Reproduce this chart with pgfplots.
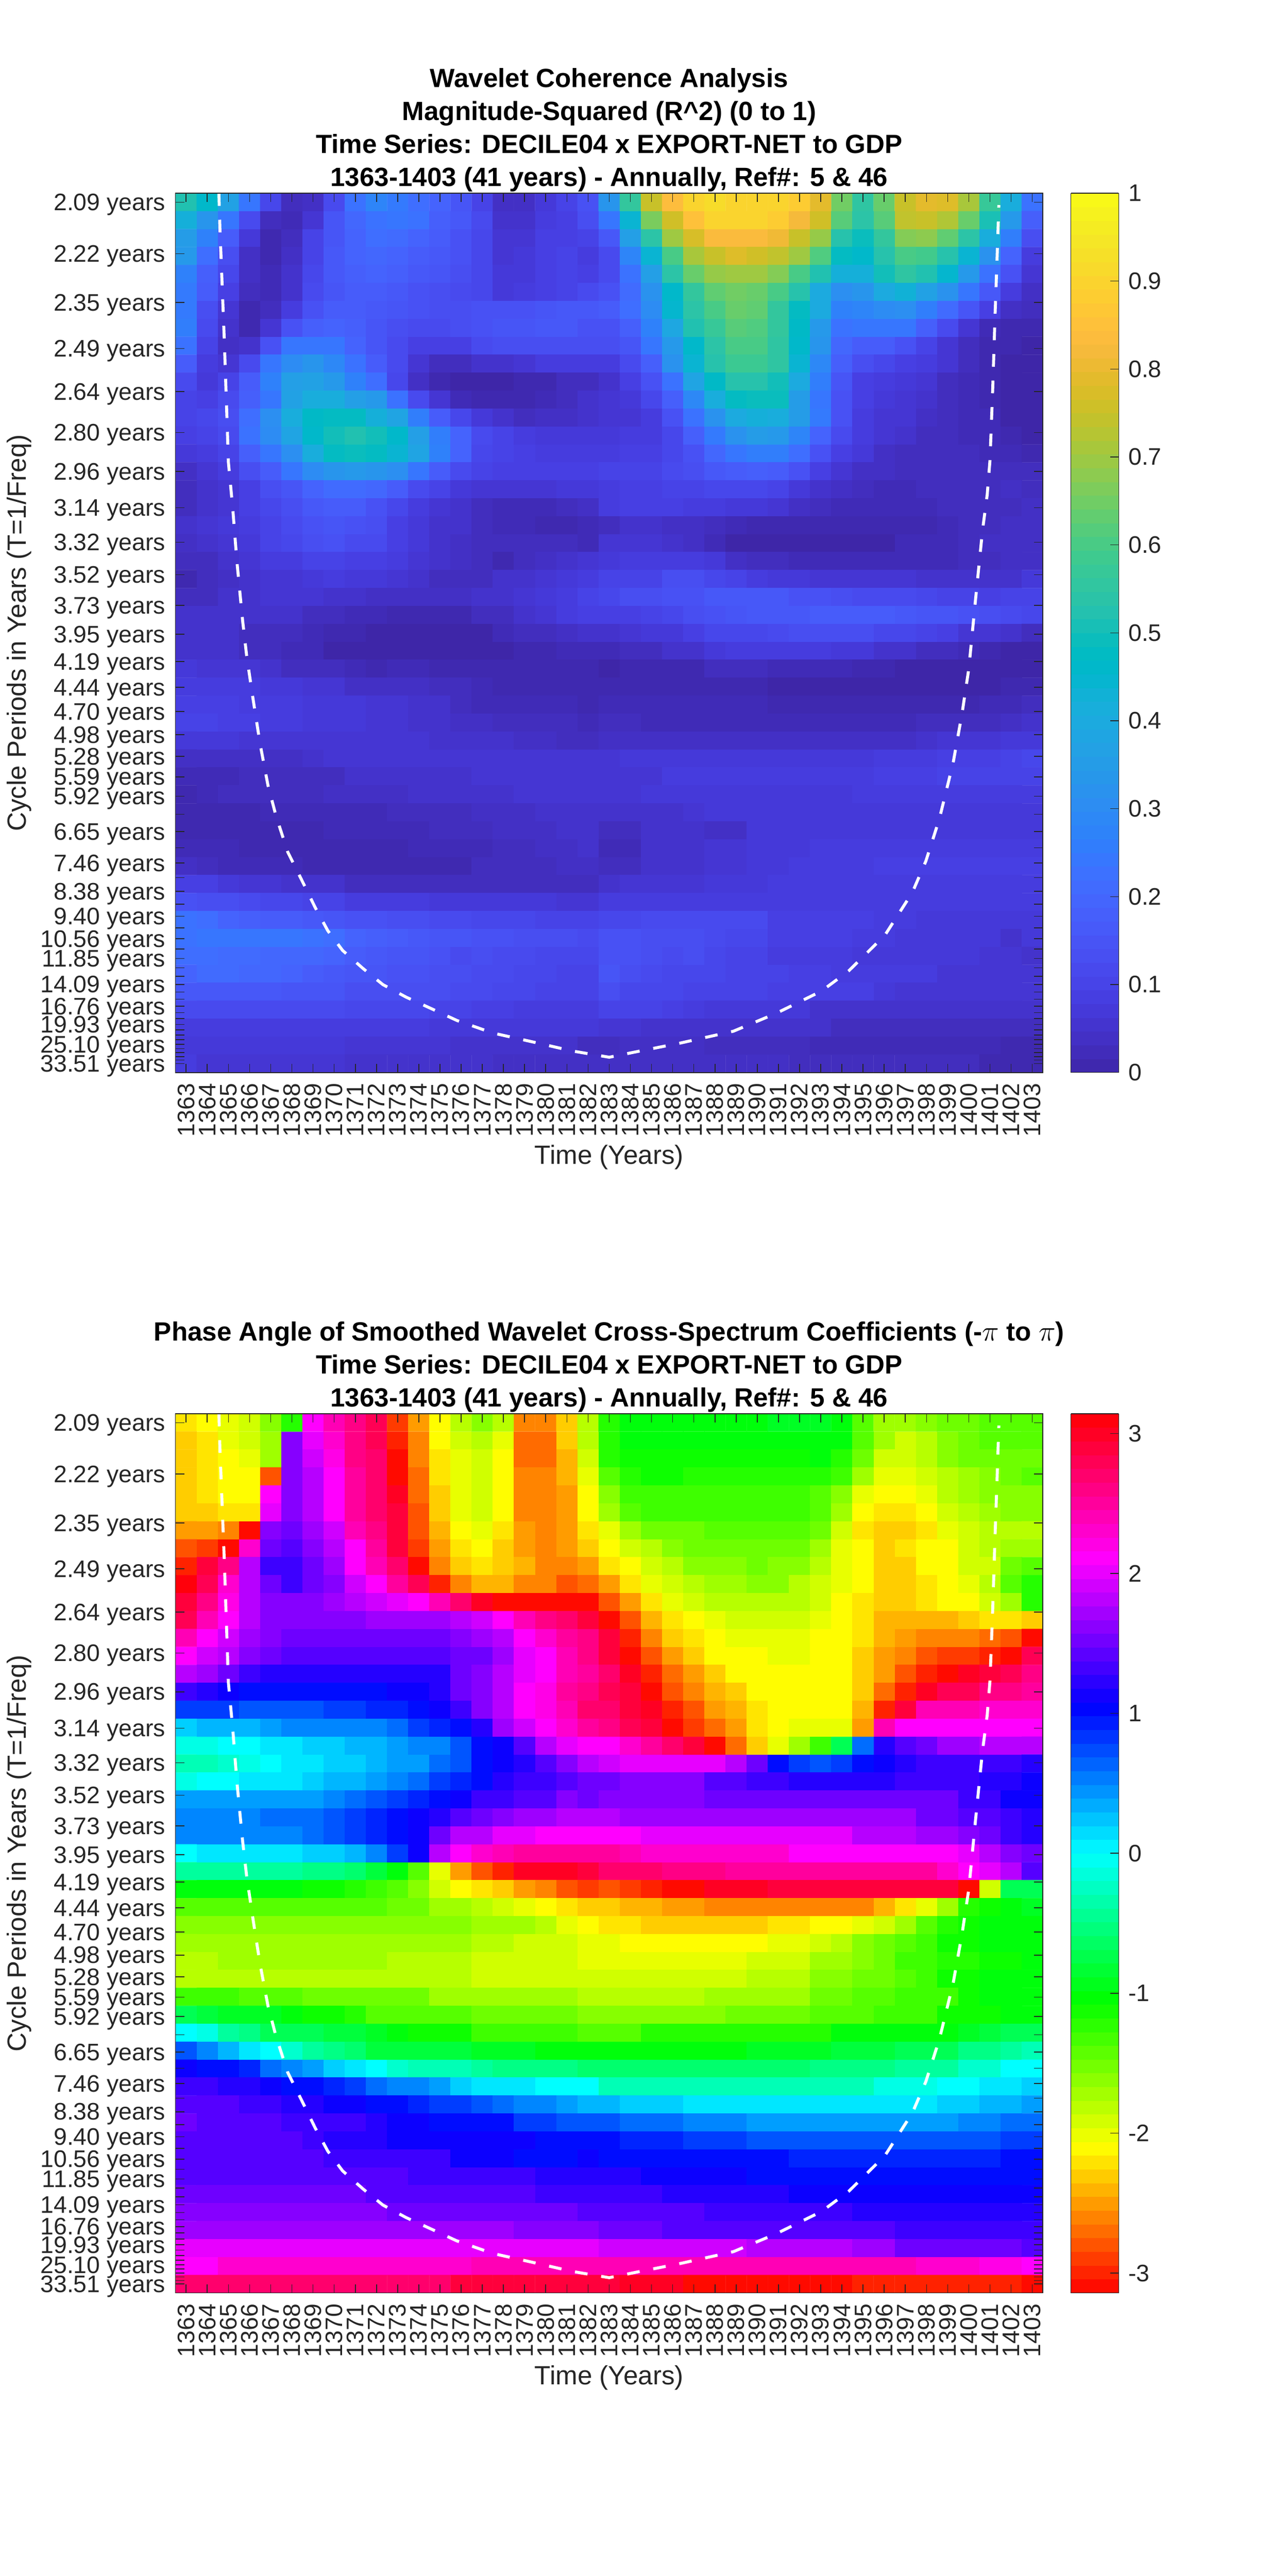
\documentclass[border=0pt]{standalone}
\usepackage{fontspec}
\setmainfont{Liberation Sans}
\usepackage{pgfplots}
\pgfplotsset{compat=1.18}
\definecolor{axc}{RGB}{38,38,38}
\makeatletter
\newcount\pc \newcount\pr
\def\startdata{\pr=0 \gdef\acc{}}
\def\R#1{\advance\pr 1 \pc=0 \@for\v:=#1\do{\ifnum\pc<41 \advance\pc 1 \xdef\acc{\acc(\the\pc,\the\pr)[\v]}\fi}%
 \loop\ifnum\pc<41 \advance\pc 1 \xdef\acc{\acc(\the\pc,\the\pr)[\v]}\repeat}
\makeatother
% Magnitude-squared coherence x 100; rows = periods, columns = 1363..1403
\startdata
\R{52,46,37,24,11,3,4,12,23,28,25,22,19,15,10,4,4,7,10,14,33,56,75,84,90,92,90,90,90,88,79,65,55,64,75,79,78,71,57,41,23}
\R{42,33,24,12,3,2,6,15,20,23,24,23,18,16,12,5,5,8,9,13,24,44,66,76,85,90,90,90,88,82,76,62,54,62,74,75,72,64,51,34,18}
\R{35,27,17,7,1,3,10,15,19,22,21,19,17,14,11,6,6,9,9,10,16,36,54,70,77,83,83,83,81,75,69,53,49,56,67,68,63,54,41,26,13}
\R{34,22,13,4,1,4,10,16,19,20,19,17,16,14,11,6,7,9,10,8,12,28,44,60,71,75,78,76,74,70,61,48,46,53,60,59,53,44,32,19,8}
\R{27,18,11,4,2,5,11,16,18,19,18,16,15,13,11,7,7,9,10,9,12,23,36,54,64,69,70,70,67,60,52,42,42,50,55,52,45,34,23,14,6}
\R{25,17,9,3,2,5,12,15,17,17,16,14,13,12,11,7,8,9,10,12,14,21,32,46,56,63,65,64,60,53,40,31,33,40,43,37,32,24,16,8,4}
\R{25,13,6,1,3,8,14,17,17,16,15,14,13,13,14,14,14,15,16,16,17,22,30,45,54,60,64,63,56,48,40,27,28,30,31,26,21,15,9,4,3}
\R{26,12,5,1,6,14,18,19,18,15,13,12,12,13,14,15,15,16,16,14,14,18,27,39,52,57,62,61,56,47,34,23,24,24,24,18,12,6,2,1,1}
\R{23,10,4,5,14,24,24,24,19,15,12,9,9,9,12,13,13,13,13,13,13,15,24,34,46,54,60,60,55,46,33,20,17,17,14,10,6,3,1,1,0}
\R{17,8,6,12,24,30,33,29,23,17,12,6,3,3,5,5,6,8,8,8,8,12,18,32,44,53,58,58,55,44,29,18,13,11,9,8,6,3,1,0,0}
\R{12,7,10,17,27,36,37,34,27,22,11,4,1,0,0,0,1,1,3,3,5,9,14,23,38,47,53,53,50,40,26,15,9,8,7,6,3,2,1,0,0}
\R{10,9,12,18,24,37,41,41,36,34,23,12,6,2,1,1,1,2,3,5,6,7,11,18,29,41,48,49,49,35,24,14,9,7,6,5,3,2,1,0,0}
\R{10,11,13,22,31,41,47,48,48,42,38,26,17,11,7,5,3,4,4,5,6,6,8,14,23,32,40,42,41,35,25,14,8,6,6,4,3,2,2,0,0}
\R{9,10,12,23,30,38,46,50,52,50,46,36,26,19,12,10,8,7,7,7,7,8,8,11,18,25,32,35,34,28,19,12,8,6,5,3,3,2,2,1,0}
\R{7,8,10,18,24,31,41,48,49,48,44,38,27,19,11,10,9,8,8,8,8,9,9,11,14,20,24,26,26,22,14,9,7,4,3,3,3,3,2,2,1}
\R{4,6,8,13,17,24,30,33,34,33,31,24,17,12,10,9,9,9,9,9,10,10,10,12,13,16,17,18,17,14,9,6,4,4,3,3,3,3,3,3,3}
\R{3,5,6,9,13,15,19,21,21,20,17,12,10,7,6,6,6,6,7,7,8,9,9,10,10,11,11,11,10,7,5,4,3,2,2,3,3,3,3,4,3}
\R{3,5,6,9,11,13,16,17,17,14,11,8,6,5,3,2,2,2,3,4,8,9,9,9,8,8,7,7,6,4,3,2,2,2,2,2,3,3,3,3,4}
\R{5,6,7,8,10,12,14,15,14,13,9,7,5,5,3,2,2,1,1,2,3,5,5,4,4,3,2,1,1,1,1,1,1,1,1,1,2,3,3,4,4}
\R{4,5,6,7,10,11,13,14,12,12,9,7,5,4,3,3,3,3,3,2,6,6,6,5,4,2,0,0,0,0,0,0,0,0,2,2,2,3,4,4,4}
\R{3,3,5,6,8,8,10,10,9,9,8,6,5,4,3,1,3,4,5,6,7,8,8,8,8,7,4,3,3,2,2,2,2,2,2,2,2,3,3,4,4}
\R{1,3,4,5,6,6,7,8,7,7,6,5,3,3,3,5,5,6,7,8,10,10,10,13,13,11,10,8,7,7,6,6,6,6,6,5,5,5,5,5,7}
\R{3,3,5,5,6,6,6,5,5,4,4,4,4,4,5,5,6,7,8,10,11,13,13,14,14,16,16,16,16,14,14,13,12,12,12,11,10,10,9,10,10}
\R{5,5,5,5,5,5,3,3,2,2,1,1,1,1,3,3,5,6,8,9,9,9,10,11,13,14,15,16,16,16,17,17,17,17,16,15,15,14,13,12,11}
\R{5,5,5,3,3,3,2,1,1,0,0,0,0,0,0,2,3,3,4,5,5,6,7,7,9,11,11,11,12,13,13,13,13,11,11,10,9,6,6,5,3}
\R{5,5,5,3,3,2,2,0,0,0,0,0,0,0,0,0,1,1,2,2,2,3,3,5,5,7,8,8,8,8,8,7,7,5,5,3,3,2,1,0,0}
\R{7,6,6,6,5,3,3,3,2,1,2,2,1,1,1,1,1,1,1,1,0,1,1,1,1,3,3,3,2,2,2,2,1,1,0,0,0,0,0,0,0}
\R{8,8,8,8,7,7,6,6,4,4,4,4,3,3,2,1,1,1,1,1,1,1,1,1,1,1,1,1,0,0,0,0,0,0,0,0,0,0,0,1,1}
\R{9,9,9,8,8,8,7,7,7,6,6,5,5,3,2,2,2,2,2,1,2,2,2,2,2,2,2,2,1,1,1,1,1,1,1,1,1,1,2,2,3}
\R{10,10,9,9,8,8,7,7,7,6,6,5,5,4,4,3,3,3,3,2,3,3,2,2,2,2,2,2,2,2,2,2,2,2,2,3,3,3,3,4,5}
\R{7,7,7,6,6,6,6,6,6,6,6,6,5,5,5,5,4,4,3,3,4,4,4,4,4,4,4,4,4,4,4,4,4,4,4,5,6,6,6,7,7}
\R{4,4,4,4,4,4,5,6,6,6,6,6,6,6,6,6,6,6,6,6,6,7,7,7,7,7,7,7,7,7,7,7,7,8,8,8,9,9,9,10,11}
\R{2,2,2,3,3,3,3,3,5,5,5,5,5,5,6,6,6,6,6,6,6,6,6,8,8,8,8,8,8,8,8,8,8,9,9,9,10,10,10,10,10}
\R{1,2,3,3,3,3,3,4,4,4,4,5,5,5,5,5,6,6,6,6,6,6,7,7,7,7,7,7,7,7,7,7,8,8,8,8,8,8,8,8,8}
\R{1,1,1,1,2,2,2,2,2,2,3,3,3,3,4,4,4,5,5,5,5,5,5,5,6,7,7,7,7,7,7,7,7,7,7,7,7,7,7,7,7}
\R{1,1,1,1,1,1,1,2,2,2,2,2,3,3,3,4,4,4,5,5,3,3,5,5,5,4,4,7,7,7,7,7,7,7,7,7,7,7,7,7,7}
\R{2,2,2,1,1,1,1,1,1,1,1,2,2,2,2,3,3,4,4,5,2,2,5,5,5,6,6,7,7,7,8,8,8,8,8,8,8,8,8,8,8}
\R{4,3,2,2,2,2,1,1,1,1,1,1,1,1,3,3,3,3,4,4,3,3,5,5,5,6,6,7,7,8,8,8,8,9,9,9,9,9,9,9,9}
\R{9,9,7,6,6,5,5,5,3,3,3,3,3,3,3,3,3,3,3,3,5,6,6,6,6,7,7,7,8,8,8,8,8,8,8,8,8,8,8,8,8}
\R{14,13,13,12,11,11,10,10,8,8,8,8,7,7,7,7,7,7,6,6,8,8,8,8,8,8,8,8,8,8,8,8,8,8,8,8,8,8,8,8,8}
\R{23,22,19,18,17,17,16,15,14,14,13,13,12,12,11,11,11,10,10,10,11,11,12,12,12,12,12,12,9,9,9,9,9,8,8,7,7,7,7,7,7}
\R{23,24,24,24,24,24,23,22,19,18,17,16,15,15,14,14,13,13,13,12,14,14,13,13,13,12,11,11,9,9,9,9,8,8,7,7,7,7,7,5,7}
\R{22,22,21,21,20,20,20,19,17,16,15,15,14,12,13,12,12,11,11,11,14,14,13,12,13,11,10,10,8,8,8,8,7,7,7,7,7,7,6,6,5}
\R{19,21,21,20,20,19,17,16,15,15,14,14,13,13,12,12,11,11,10,10,15,13,12,11,11,11,10,10,10,9,9,8,8,8,8,8,6,6,6,6,6}
\R{16,16,16,16,16,15,15,15,13,13,13,13,13,12,12,11,11,10,10,10,13,11,11,11,10,10,10,10,9,9,9,9,9,7,6,6,6,6,6,6,6}
\R{12,12,12,12,12,12,12,12,11,11,11,11,10,10,9,9,8,8,8,8,10,10,10,9,8,7,7,7,7,7,5,5,5,5,5,5,5,5,5,5,5}
\R{8,8,8,8,8,8,8,8,8,8,8,8,7,7,7,7,7,7,7,7,6,6,5,5,5,5,5,5,5,5,5,3,3,3,3,3,3,3,3,3,3}
\R{7,7,7,7,7,7,7,7,6,6,6,6,6,5,5,5,5,5,5,3,3,4,4,4,4,3,3,3,3,3,2,2,2,2,2,2,2,2,2,1,1}
\R{8,6,6,6,6,6,6,6,5,5,5,5,5,5,5,4,4,4,4,4,4,4,4,4,4,4,4,4,4,3,3,3,3,3,3,3,3,3,1,1,1}
\global\let\dataA\acc
% Phase angle x 10 (radians); rows = periods, columns = 1363..1403
\startdata
\R{-22,-21,-20,-19,-16,-12,21,24,26,28,-29,-25,-21,-18,-16,-18,-26,-26,-23,-18,-12,-10,-10,-10,-10,-10,-10,-10,-9,-9,-9,-10,-14,-17,-17,-16,-15,-15,-14,-14,-14}
\R{-23,-22,-20,-19,-17,16,20,23,26,28,-30,-26,-21,-19,-18,-20,-27,-27,-23,-18,-12,-10,-10,-10,-10,-10,-10,-10,-10,-10,-10,-10,-14,-17,-19,-18,-16,-15,-14,-14,-14}
\R{-23,-22,-21,-20,-17,16,19,22,26,27,-31,-26,-22,-20,-19,-21,-27,-27,-24,-19,-12,-11,-11,-11,-11,-11,-11,-11,-11,-11,-10,-12,-15,-19,-19,-18,-16,-15,-15,-15,-15}
\R{-23,-22,-21,-21,-28,16,18,21,25,27,-31,-27,-22,-20,-19,-21,-26,-26,-24,-20,-14,-12,-11,-11,-12,-12,-12,-12,-12,-12,-12,-13,-17,-20,-20,-19,-18,-17,-16,-15,-14}
\R{-23,-22,-21,-21,21,16,18,21,25,27,30,-27,-23,-20,-19,-21,-26,-26,-25,-21,-16,-13,-13,-13,-13,-13,-13,-13,-13,-13,-14,-16,-20,-21,-21,-20,-18,-17,-16,-16,-16}
\R{-23,-23,-22,-22,20,16,18,21,25,27,29,-28,-23,-20,-19,-21,-26,-26,-25,-21,-17,-14,-13,-13,-13,-13,-13,-13,-13,-13,-14,-17,-21,-22,-22,-21,-19,-18,-17,-16,-16}
\R{-25,-25,-26,-31,16,15,17,19,24,26,29,-28,-24,-21,-20,-22,-25,-26,-25,-22,-20,-17,-15,-15,-15,-14,-14,-14,-14,-14,-15,-19,-22,-23,-23,-22,-20,-19,-18,-18,-18}
\R{-28,-29,-31,23,15,14,16,18,21,25,29,-29,-25,-22,-21,-23,-25,-26,-25,-23,-21,-19,-18,-16,-15,-15,-15,-15,-15,-15,-17,-20,-21,-23,-22,-21,-21,-19,-18,-17,-17}
\R{-30,29,26,18,13,13,15,17,21,24,27,-31,-26,-23,-22,-23,-24,-26,-26,-25,-22,-21,-19,-18,-16,-16,-16,-15,-16,-16,-18,-20,-21,-23,-23,-21,-21,-19,-19,-15,-14}
\R{31,28,23,18,15,13,15,16,19,21,25,28,-30,-26,-24,-24,-26,-26,-28,-27,-25,-22,-20,-19,-18,-17,-17,-16,-16,-18,-19,-20,-21,-23,-23,-22,-21,-20,-18,-14,-12}
\R{29,26,22,18,16,16,16,17,18,19,20,21,24,27,30,-31,-31,-31,-31,-31,-28,-25,-22,-20,-19,-18,-18,-18,-18,-18,-19,-21,-22,-23,-23,-22,-21,-21,-19,-17,-12}
\R{28,24,21,18,16,16,16,16,16,17,17,17,17,18,19,21,24,26,27,29,-31,-28,-24,-22,-21,-20,-19,-19,-19,-19,-20,-21,-22,-24,-24,-24,-24,-23,-22,-22,-23}
\R{24,21,19,17,16,15,15,15,15,15,15,15,15,16,17,18,21,23,25,26,29,-30,-26,-23,-22,-21,-20,-20,-20,-20,-21,-21,-22,-24,-25,-26,-26,-26,-27,-28,-31}
\R{21,19,18,16,15,14,14,14,14,14,14,14,14,15,15,17,20,21,24,26,29,-31,-28,-25,-23,-21,-21,-21,-20,-20,-21,-21,-23,-25,-26,-28,-29,-29,-30,-31,28}
\R{18,17,15,13,12,12,12,12,12,12,12,12,12,15,16,18,20,21,24,25,27,30,-30,-27,-25,-23,-21,-21,-21,-21,-21,-21,-23,-25,-28,-30,-31,30,29,28,26}
\R{13,12,11,10,10,10,10,10,10,10,11,11,12,15,16,18,21,22,25,26,28,29,-31,-28,-26,-24,-23,-21,-21,-21,-21,-21,-23,-27,-30,30,28,28,26,26,25}
\R{8,8,8,7,7,7,7,8,8,9,9,10,11,13,16,18,21,22,24,27,27,29,30,-30,-28,-25,-24,-22,-21,-21,-21,-21,-24,-30,29,24,24,24,23,23,23}
\R{2,3,3,3,4,5,5,5,5,5,6,8,9,10,12,17,19,21,23,25,26,28,29,-31,-29,-27,-25,-22,-21,-20,-20,-20,-25,24,21,21,21,21,21,21,21}
\R{-1,-1,0,0,1,1,2,2,3,3,4,5,5,7,10,11,14,18,20,21,21,23,25,27,29,-31,-27,-23,-20,-17,-13,-7,6,12,14,15,17,17,18,18,18}
\R{-3,-3,-2,-1,0,1,1,2,2,3,4,4,6,7,10,11,12,14,16,18,19,20,20,20,20,20,18,15,10,8,7,8,10,11,12,13,13,13,13,13,12}
\R{-1,0,0,1,1,1,2,3,3,4,5,6,8,9,10,12,13,13,14,15,15,16,16,16,16,14,14,13,13,12,12,12,12,12,13,13,13,13,12,12,11}
\R{4,4,4,4,4,4,4,5,6,7,8,9,10,11,13,13,14,14,16,15,16,16,16,16,16,15,15,15,15,15,15,15,15,15,15,15,15,13,13,11,11}
\R{5,5,5,5,6,6,6,7,8,9,10,11,12,14,15,16,17,17,18,18,18,17,17,17,17,17,17,17,17,17,17,17,17,17,17,15,15,14,14,13,12}
\R{5,5,5,5,5,5,6,7,8,9,10,11,15,18,18,20,20,21,21,21,21,21,20,20,20,20,20,20,20,20,20,20,18,18,18,17,17,16,15,13,12}
\R{0,1,1,1,1,1,2,2,3,5,8,11,18,21,23,24,25,25,25,25,25,24,23,23,23,23,23,23,23,21,21,21,21,21,21,21,21,20,18,16,15}
\R{-4,-4,-4,-4,-4,-4,-5,-5,-6,-8,-10,-14,-20,-25,-28,-30,30,30,30,29,27,27,27,26,26,26,25,25,25,25,25,25,25,25,25,25,23,21,20,18,14}
\R{-10,-10,-10,-10,-10,-10,-11,-11,-12,-13,-14,-16,-19,-21,-22,-23,-25,-26,-28,-29,-28,-29,-30,-31,-31,30,30,30,29,29,29,29,29,29,29,29,29,-31,-19,-7,-7}
\R{-14,-14,-14,-14,-14,-14,-14,-14,-14,-14,-15,-15,-17,-17,-18,-19,-20,-21,-22,-23,-23,-24,-24,-25,-25,-26,-26,-26,-26,-26,-26,-26,-26,-24,-22,-20,-17,-12,-11,-10,-9}
\R{-16,-16,-16,-16,-16,-16,-16,-16,-16,-16,-16,-16,-16,-16,-17,-17,-17,-18,-20,-21,-22,-22,-23,-23,-23,-23,-23,-23,-22,-22,-21,-21,-20,-19,-17,-14,-12,-11,-10,-10,-10}
\R{-17,-17,-17,-17,-17,-17,-17,-17,-17,-17,-17,-17,-17,-17,-18,-18,-19,-19,-19,-20,-20,-21,-21,-21,-21,-21,-21,-21,-20,-20,-19,-18,-16,-15,-14,-13,-11,-11,-10,-10,-10}
\R{-18,-18,-17,-17,-17,-17,-17,-17,-17,-17,-18,-18,-18,-18,-19,-19,-19,-19,-19,-20,-20,-20,-20,-20,-20,-20,-20,-19,-19,-19,-17,-17,-16,-15,-13,-13,-12,-12,-11,-11,-10}
\R{-18,-18,-18,-18,-18,-18,-18,-18,-18,-18,-18,-18,-18,-18,-19,-19,-19,-19,-19,-19,-19,-19,-19,-19,-19,-19,-19,-18,-18,-18,-16,-16,-15,-15,-14,-13,-11,-11,-10,-10,-10}
\R{-13,-13,-13,-14,-14,-14,-15,-15,-15,-15,-15,-15,-17,-17,-17,-17,-17,-17,-17,-18,-18,-18,-18,-18,-18,-17,-17,-17,-17,-17,-15,-15,-14,-14,-13,-13,-13,-11,-10,-10,-10}
\R{-7,-8,-9,-9,-9,-10,-11,-11,-12,-14,-14,-14,-14,-14,-15,-15,-15,-15,-15,-16,-16,-16,-16,-16,-16,-16,-15,-15,-15,-15,-14,-14,-14,-13,-13,-13,-11,-11,-11,-10,-10}
\R{0,-1,-4,-5,-7,-7,-7,-8,-8,-9,-10,-11,-11,-11,-13,-13,-13,-13,-13,-14,-14,-14,-12,-12,-12,-12,-12,-12,-12,-12,-12,-10,-10,-10,-10,-10,-10,-9,-8,-7,-7}
\R{7,5,3,1,0,-2,-4,-5,-6,-8,-8,-8,-8,-8,-9,-9,-9,-10,-10,-10,-10,-10,-10,-10,-10,-10,-10,-9,-9,-9,-9,-8,-8,-8,-7,-7,-7,-5,-5,-4,-3}
\R{11,10,10,9,6,5,4,2,1,0,-2,-3,-3,-3,-4,-5,-5,-5,-5,-6,-6,-6,-6,-6,-6,-6,-6,-6,-6,-6,-5,-5,-5,-5,-4,-4,-4,-2,-2,0,0}
\R{13,13,12,12,11,10,10,9,8,6,5,5,4,2,1,1,1,0,0,0,-3,-3,-3,-3,-3,-3,-3,-3,-3,-3,-3,-3,-3,-1,-1,-1,0,0,1,1,2}
\R{14,14,14,13,13,12,12,11,11,10,10,9,8,8,7,6,5,5,4,3,3,2,2,2,1,1,1,1,1,1,1,1,1,1,1,1,2,2,3,3,4}
\R{15,14,14,14,14,13,13,13,13,12,11,11,10,10,10,10,8,8,7,7,7,6,6,6,5,5,5,4,4,4,4,4,4,4,4,4,4,5,5,6,6}
\R{14,14,14,14,14,14,13,12,12,12,11,11,11,11,11,11,11,10,10,10,10,9,9,9,8,8,8,7,7,7,7,7,7,7,7,7,7,7,7,8,8}
\R{14,14,14,14,14,14,14,13,13,13,13,13,13,11,11,11,10,10,10,11,10,10,10,10,10,10,10,10,10,9,9,9,9,9,9,9,9,9,9,10,10}
\R{14,14,14,14,14,14,14,14,14,14,14,13,13,13,13,13,13,12,12,12,12,12,11,11,11,11,11,10,10,10,10,10,10,10,10,10,10,10,10,10,10}
\R{15,15,15,15,15,15,15,15,15,14,14,14,14,14,14,14,14,13,13,13,13,13,13,12,12,12,12,12,12,11,11,11,11,11,11,11,11,11,11,11,11}
\R{16,16,16,16,16,16,16,16,16,16,15,15,15,15,15,15,15,15,15,14,14,14,14,14,14,13,13,13,13,13,13,13,12,12,12,12,12,12,12,12,12}
\R{17,17,17,17,17,17,17,17,17,17,17,17,17,17,17,17,16,16,16,16,15,15,15,14,14,14,14,14,14,14,14,14,14,14,13,13,13,13,13,13,13}
\R{20,20,20,20,20,20,20,20,20,20,20,20,20,20,20,20,20,20,20,20,19,19,19,19,19,19,19,18,18,18,18,18,17,17,15,15,15,15,15,15,14}
\R{21,21,23,23,23,23,23,23,23,23,23,23,23,23,24,24,24,24,24,24,24,24,24,24,24,24,24,24,24,24,24,24,24,24,24,23,23,23,22,22,21}
\R{27,27,27,27,27,27,27,27,27,27,27,27,27,29,29,29,29,29,29,29,29,30,30,30,-31,-31,-31,-31,-31,-31,-31,-31,-30,-30,-30,-30,-30,-30,-30,-30,-31}
\global\let\dataB\acc
\newcommand\heat[1]{\addplot[matrix plot,draw=mapped color,line width=0.1pt,point meta=explicit,mesh/cols=41,mesh/ordering=x varies] coordinates {#1};}
\newcommand\coi{\addplot[white,line width=1.8pt,dash pattern=on 7.7pt off 8.4pt,no markers] coordinates {
(2.55,0.5)(2.6,2.5)(2.8,8.5)(2.93,13)(3,15.5)(3.2,18)(3.4,21)(3.67,24.3)(3.86,26.25)(4.14,28.5)(4.5,31.2)(4.87,33.5)(5.25,35.2)(5.8,37.2)(6.56,39)(7.1,40.3)(7.7,41.6)(8.4,42.7)(9.36,43.7)(10.3,44.6)(11.4,45.3)(12.7,46)(13.8,46.6)(15.5,47.3)(17.4,47.8)(19.25,48.3)(21,48.65)(22.47,48.3)(24.4,47.85)(26.87,47.2)(28.9,46.2)(31.04,44.96)(32.33,43.83)(34.04,41.84)(35.33,39.47)(35.97,37.72)(36.61,35.36)(37.26,32.24)(37.68,29.5)(38,27)(38.33,23)(38.65,19.27)(38.87,17.3)(39,15.4)(39.13,11.4)(39.24,7.35)(39.36,3.3)(39.42,1.16)};}
\pgfplotsset{
 colormap={parula}{rgb=(0.2422,0.1504,0.6603) rgb=(0.2504,0.1650,0.7076) rgb=(0.2578,0.1818,0.7511) rgb=(0.2647,0.1978,0.7952) rgb=(0.2706,0.2147,0.8364) rgb=(0.2751,0.2342,0.8710) rgb=(0.2783,0.2559,0.8991) rgb=(0.2803,0.2782,0.9221) rgb=(0.2813,0.3006,0.9414) rgb=(0.2810,0.3228,0.9579) rgb=(0.2795,0.3447,0.9717) rgb=(0.2760,0.3667,0.9829) rgb=(0.2699,0.3892,0.9906) rgb=(0.2602,0.4123,0.9952) rgb=(0.2440,0.4358,0.9988) rgb=(0.2206,0.4603,0.9973) rgb=(0.1963,0.4847,0.9892) rgb=(0.1834,0.5074,0.9798) rgb=(0.1786,0.5289,0.9682) rgb=(0.1764,0.5499,0.9520) rgb=(0.1687,0.5703,0.9359) rgb=(0.1540,0.5902,0.9218) rgb=(0.1460,0.6091,0.9079) rgb=(0.1380,0.6276,0.8973) rgb=(0.1248,0.6459,0.8883) rgb=(0.1113,0.6635,0.8763) rgb=(0.0952,0.6798,0.8598) rgb=(0.0689,0.6948,0.8394) rgb=(0.0297,0.7082,0.8163) rgb=(0.0036,0.7203,0.7917) rgb=(0.0067,0.7312,0.7660) rgb=(0.0433,0.7411,0.7394) rgb=(0.0964,0.7500,0.7120) rgb=(0.1408,0.7584,0.6842) rgb=(0.1717,0.7670,0.6554) rgb=(0.1938,0.7758,0.6251) rgb=(0.2161,0.7843,0.5923) rgb=(0.2470,0.7918,0.5567) rgb=(0.2906,0.7973,0.5188) rgb=(0.3406,0.8008,0.4789) rgb=(0.3909,0.8029,0.4354) rgb=(0.4456,0.8024,0.3909) rgb=(0.5044,0.7993,0.3480) rgb=(0.5616,0.7942,0.3045) rgb=(0.6174,0.7876,0.2612) rgb=(0.6720,0.7793,0.2227) rgb=(0.7242,0.7698,0.1910) rgb=(0.7738,0.7598,0.1646) rgb=(0.8203,0.7498,0.1535) rgb=(0.8634,0.7406,0.1596) rgb=(0.9035,0.7330,0.1774) rgb=(0.9393,0.7288,0.2100) rgb=(0.9728,0.7309,0.2394) rgb=(0.9956,0.7434,0.2371) rgb=(0.9970,0.7659,0.2199) rgb=(0.9952,0.7893,0.2028) rgb=(0.9892,0.8136,0.1885) rgb=(0.9786,0.8386,0.1766) rgb=(0.9676,0.8639,0.1643) rgb=(0.9610,0.8890,0.1537) rgb=(0.9597,0.9135,0.1423) rgb=(0.9628,0.9373,0.1265) rgb=(0.9691,0.9606,0.1064) rgb=(0.9769,0.9839,0.0805)},
 colormap={hsvm}{rgb255=(255,0,0) rgb255=(255,255,0) rgb255=(0,255,0) rgb255=(0,255,255) rgb255=(0,0,255) rgb255=(255,0,255) rgb255=(255,0,0)},
 wav/.style={
  scale only axis,width=526.25pt,height=533.5pt,anchor=south west,
  xmin=0.5,xmax=41.5,ymin=0.5,ymax=49.5,y dir=reverse,axis on top,
  xtick={1,2,...,41},
  xticklabels={1363,1364,1365,1366,1367,1368,1369,1370,1371,1372,1373,1374,1375,1376,1377,1378,1379,1380,1381,1382,1383,1384,1385,1386,1387,1388,1389,1390,1391,1392,1393,1394,1395,1396,1397,1398,1399,1400,1401,1402,1403},
  ytick={1.00,3.87,6.59,9.15,11.56,13.84,16.00,18.03,19.95,21.76,23.47,25.08,26.60,28.04,29.39,30.67,31.88,33.02,34.10,35.11,36.07,36.98,37.83,38.64,39.40,40.12,40.80,41.44,42.04,42.61,43.15,43.66,44.14,44.59,45.02,45.42,45.80,46.16,46.50,46.82,47.12,47.41,47.67,47.93,48.17,48.39,48.61,48.81,49.00},
  yticklabels={2.09 years,2.22 years,2.35 years,2.49 years,2.64 years,2.80 years,2.96 years,3.14 years,3.32 years,3.52 years,3.73 years,3.95 years,4.19 years,4.44 years,4.70 years,4.98 years,5.28 years,5.59 years,5.92 years,{},6.65 years,{},7.46 years,{},8.38 years,{},9.40 years,{},10.56 years,{},11.85 years,{},{},14.09 years,{},{},16.76 years,{},{},19.93 years,{},{},{},25.10 years,{},{},{},{},33.51 years},
  xticklabel pos=lower,
  yticklabel pos=left,
  tick align=inside,major tick length=5.3pt,
  tick style={color=axc,line width=0.5pt},
  axis line style={color=axc,line width=0.5pt},
  ticklabel style={font=\fontsize{14.5}{14.5}\selectfont,text=axc},
  xticklabel style={yshift=-6.5pt,rotate=90,anchor=east,inner sep=0pt},
  yticklabel style={anchor=east,inner sep=0pt,xshift=-6pt,yshift=-1.5pt},
  xlabel={Time (Years)},ylabel={Cycle Periods in Years (T=1/Freq)},
  every axis x label/.style={at={(axis description cs:0.5,0)},anchor=center,yshift=-51.5pt,font=\fontsize{16}{16}\selectfont,text=axc},
  every axis y label/.style={at={(axis description cs:0,0.5)},xshift=-95pt,rotate=90,anchor=center,font=\fontsize{16}{16}\selectfont,text=axc},
  every axis title shift=0pt,
  title style={at={(0.5,1)},anchor=south,align=center,inner sep=0pt,yshift=0.6pt,font=\fontsize{16}{20}\selectfont\bfseries},
  colorbar,colorbar sampled,
 },
 cbcommon/.style={
  at={(parent axis.north east)},anchor=north west,xshift=8.5pt,width=29pt,samples=65,
  yticklabel pos=right,ytick pos=right,tick align=inside,major tick length=5pt,
  tick style={color=axc,line width=0.5pt},axis line style={color=axc,line width=0.5pt},
  yticklabel style={font=\fontsize{14.5}{14.5}\selectfont,text=axc,inner sep=0pt,xshift=5.7pt,anchor=west},
 },
}
\begin{document}
\begin{tikzpicture}
\useasboundingbox (0,0) rectangle (781.25pt,1563pt);
\begin{axis}[wav,at={(106.5pt,912.25pt)},colormap name=parula,point meta min=0,point meta max=100,
 title={Wavelet Coherence Analysis\\Magnitude-Squared (R\textasciicircum 2) (0 to 1)\\Time Series: DECILE04 x EXPORT-NET to GDP\\1363-1403 (41 years) - Annually, Ref\#: 5 \& 46},
 colorbar style={cbcommon,ytick={0,10,20,30,40,50,60,70,80,90,100},yticklabels={0,0.1,0.2,0.3,0.4,0.5,0.6,0.7,0.8,0.9,1}}]
\expandafter\heat\expandafter{\dataA}
\coi
\end{axis}
\begin{axis}[wav,at={(106.5pt,171.75pt)},colormap name=hsvm,point meta min=-31.416,point meta max=31.416,
 title={Phase Angle of Smoothed Wavelet Cross-Spectrum Coefficients (-$\pi$ to $\pi$)\\Time Series: DECILE04 x EXPORT-NET to GDP\\1363-1403 (41 years) - Annually, Ref\#: 5 \& 46},
 colorbar style={cbcommon,ytick={-30,-20,-10,0,10,20,30},yticklabels={-3,-2,-1,0,1,2,3}}]
\expandafter\heat\expandafter{\dataB}
\coi
\end{axis}
\end{tikzpicture}
\end{document}
